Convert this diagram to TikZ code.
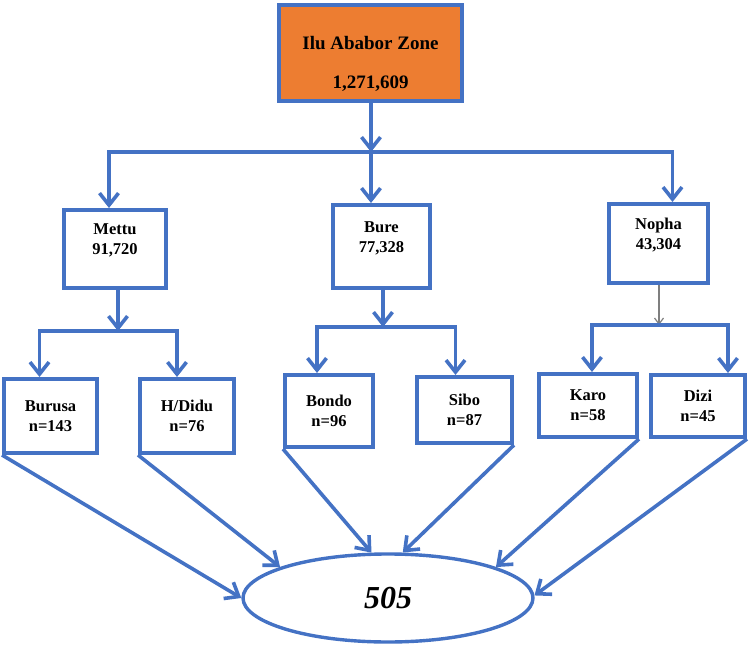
\documentclass[tikz,border=0pt]{standalone}
\usepackage{fontspec}
\setmainfont{Liberation Serif}
\usepackage{tikz}
\usetikzlibrary{arrows.meta,positioning,calc,shapes.geometric}
\definecolor{ZoneBlue}{HTML}{4472C4}
\definecolor{ZoneOrange}{HTML}{ED7D31}
\definecolor{ZoneGray}{HTML}{7F7F7F}

\begin{document}
\begin{tikzpicture}[x=1pt, y=-1pt,
  box/.style={draw=ZoneBlue, fill=white, line width=4pt, align=center,
    inner sep=2pt, font=\bfseries\fontsize{16.5}{20}\selectfont},
  topbox/.style={box, fill=ZoneOrange, font=\bfseries\fontsize{19}{22}\selectfont},
  arr/.style={-{Straight Barb[length=12pt,width=19pt]}, ZoneBlue, line width=3.6pt},
  thin/.style={-{Straight Barb[length=6pt,width=9pt]}, ZoneGray, line width=1.2pt}]
  \useasboundingbox (0,0) rectangle (750,650);

  % zone and districts
  \node[topbox, minimum width=183pt, minimum height=96pt, text height=73pt] (zone) at (370.5,53)
    {Ilu Ababor Zone\\[17pt]1,271,609};
  \node[box, minimum width=102pt, minimum height=78pt, text depth=19pt] (mettu) at (115,249) {Mettu\\91,720};
  \node[box, minimum width=97pt, minimum height=83pt, text depth=19pt] (bure) at (381.5,246.5) {Bure\\77,328};
  \node[box, minimum width=99pt, minimum height=79pt, text depth=19pt] (nopha) at (658.5,243.5) {Nopha\\43,304};

  % kebeles
  \node[box, minimum width=93pt, minimum height=74pt] (burusa) at (50.5,416) {Burusa\\n=143};
  \node[box, minimum width=94pt, minimum height=74pt] (hdidu) at (187,416) {H/Didu\\n=76};
  \node[box, minimum width=88pt, minimum height=72pt] (bondo) at (329,411) {Bondo\\n=96};
  \node[box, minimum width=95pt, minimum height=66pt] (sibo) at (464.5,410) {Sibo\\n=87};
  \node[box, minimum width=98pt, minimum height=63pt] (karo) at (588,405.5) {Karo\\n=58};
  \node[box, minimum width=94pt, minimum height=62pt] (dizi) at (698,406) {Dizi\\n=45};

  % total sample
  \node[ellipse, draw=ZoneBlue, line width=3.4pt, minimum width=290pt, minimum height=88pt,
    font=\bfseries\itshape\fontsize{32}{36}\selectfont] (total) at (388,598) {505};

  % branch points
  \coordinate (jz) at (371,152);
  \coordinate (jm) at (118,331);
  \coordinate (jb) at (383,327);
  \coordinate (jn) at (659,325);

  \draw[arr] (zone.south -| jz) -- (jz);
  \draw[arr] (jz) -| ([xshift=-6pt]mettu.north);
  \draw[arr] (jz) -- (jz |- bure.north);
  \draw[arr] (jz) -| ([xshift=14pt]nopha.north);

  \draw[arr] (mettu.south -| jm) -- (jm);
  \draw[arr] (jm) -| ([xshift=-11pt]burusa.north);
  \draw[arr] (jm) -| ([xshift=-10pt]hdidu.north);

  \draw[arr] (bure.south -| jb) -- (jb);
  \draw[arr] (jb) -| ([xshift=-12pt]bondo.north);
  \draw[arr] (jb) -| ([xshift=-9pt]sibo.north);

  \draw[thin] (nopha.south -| jn) -- (jn);
  \draw[arr] (jn) -| ([xshift=4pt]karo.north);
  \draw[arr] (jn) -| ([xshift=30pt]dizi.north);

  \draw[arr] (burusa.south west) -- (total.180);
  \draw[arr] (hdidu.south west) -- (total.164);
  \draw[arr] (bondo.south west) -- (total.110);
  \draw[arr] (sibo.south east) -- (total.72);
  \draw[arr] (karo.south east) -- (total.16);
  \draw[arr] (dizi.south east) -- (total.1);
\end{tikzpicture}
\end{document}
